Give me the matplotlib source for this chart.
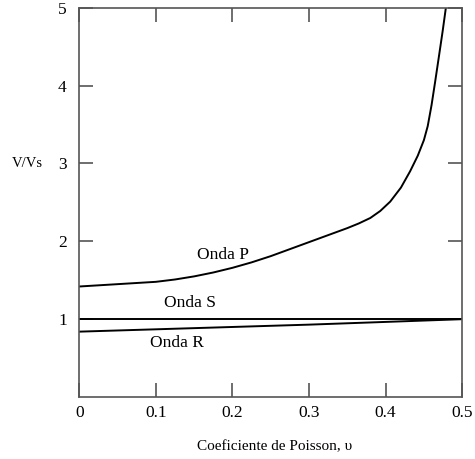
import matplotlib.pyplot as plt

plt.rcParams['font.family'] = ['Liberation Serif', 'DejaVu Serif']

# Poisson ratio values and velocity ratios
nu_p = [0.0, 0.025, 0.05, 0.075, 0.10, 0.125, 0.15, 0.175, 0.20, 0.225,
        0.25, 0.275, 0.30, 0.325, 0.35, 0.365, 0.38, 0.393, 0.406, 0.42,
        0.432, 0.442, 0.45, 0.455, 0.46, 0.4647, 0.47, 0.4745, 0.4787]
vp_vs = [1.42, 1.435, 1.45, 1.465, 1.48, 1.51, 1.55, 1.60, 1.66, 1.73,
         1.81, 1.90, 1.99, 2.08, 2.17, 2.23, 2.30, 2.39, 2.51, 2.69,
         2.90, 3.10, 3.30, 3.48, 3.75, 4.05, 4.40, 4.70, 5.0]

nu_s = [0.0, 0.5]
vs_vs = [1.0, 1.0]

nu_r = [0.0, 0.1, 0.2, 0.3, 0.4, 0.5]
vr_vs = [0.84, 0.87, 0.90, 0.93, 0.965, 1.0]

labels = ['Onda P', 'Onda S', 'Onda R']
label_x = [0.188, 0.144, 0.127]
label_y = [1.83, 1.21, 0.69]

x_ticks = [0, 0.1, 0.2, 0.3, 0.4, 0.5]
x_tick_labels = ['0', '0.1', '0.2', '0.3', '0.4', '0.5']
y_ticks = [1, 2, 3, 4, 5]

fig = plt.figure(figsize=(4.75, 4.59), dpi=100)
ax = fig.add_axes([0.167, 0.135, 0.806, 0.848])

ax.plot(nu_p, vp_vs, color='black', lw=1.4)
ax.plot(nu_s, vs_vs, color='black', lw=1.4)
ax.plot(nu_r, vr_vs, color='black', lw=1.4)

for txt, tx, ty in zip(labels, label_x, label_y):
  ax.text(tx, ty, txt, fontsize=12.5, ha='center', va='center')

ax.set_xlim(0, 0.5)
ax.set_ylim(0, 5)
ax.set_xticks(x_ticks)
ax.set_xticklabels(x_tick_labels)
ax.set_yticks(y_ticks)
ax.tick_params(direction='in', length=10, width=1.2, color='#555555',
               top=True, right=True, labelsize=12.5)
ax.tick_params(axis='x', pad=6)
ax.tick_params(axis='y', pad=9)
for sp in ax.spines.values():
  sp.set_color('#555555')
  sp.set_linewidth(1.2)

ax.set_xlabel('Coeficiente de Poisson, \u03c5', fontsize=11, va='center')
ax.xaxis.set_label_coords(0.51, -0.128)
ax.set_ylabel('V/Vs', fontsize=10.5, rotation=0, ha='center', va='center')
ax.yaxis.set_label_coords(-0.137, 0.6)

plt.savefig('out.png', dpi=100)
